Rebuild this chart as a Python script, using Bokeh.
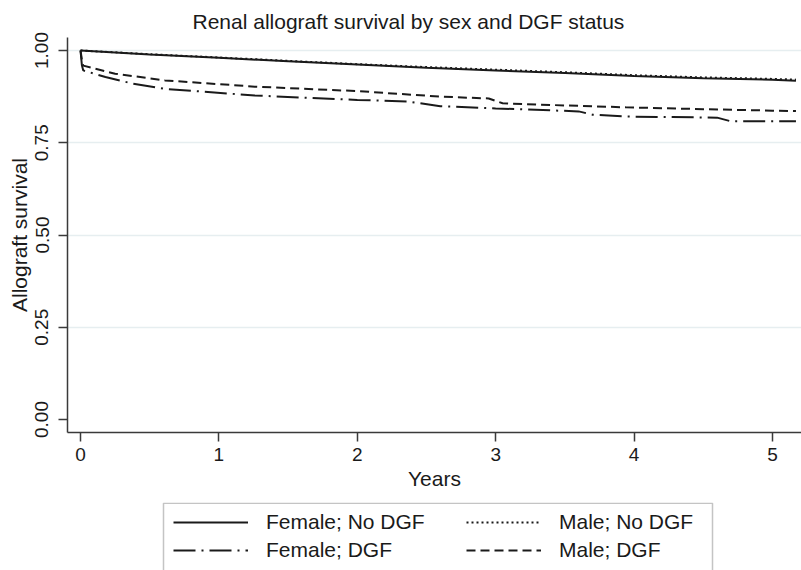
from bokeh.plotting import figure
from bokeh.layouts import column
from bokeh.models import Range1d, FixedTicker, NumeralTickFormatter, Legend, LegendItem, BoxAnnotation
from bokeh.embed import file_html
from bokeh.resources import INLINE

# ---- data ----
title_text = "Renal allograft survival by sex and DGF status"
x_label = "Years"
y_label = "Allograft survival"
x_ticks = [0, 1, 2, 3, 4, 5]
y_ticks = [0.0, 0.25, 0.5, 0.75, 1.0]

f_nodgf_t = [0, 0.5, 1.0, 1.5, 2.0, 2.5, 3.0, 3.5, 4.0, 4.5, 5.0, 5.17]
f_nodgf_s = [1.0, 0.989, 0.980, 0.971, 0.962, 0.953, 0.946, 0.939, 0.931, 0.925, 0.921, 0.918]

m_nodgf_t = [0, 0.5, 1.0, 1.5, 2.0, 2.5, 3.0, 3.5, 4.0, 4.5, 5.0, 5.17]
m_nodgf_s = [1.0, 0.990, 0.981, 0.972, 0.963, 0.955, 0.948, 0.941, 0.933, 0.927, 0.923, 0.921]

f_dgf_t = [0, 0.01, 0.02, 0.18, 0.38, 0.61, 1.26, 2.0, 2.36, 2.6, 3.0, 3.6, 3.7, 3.94, 4.6, 4.7, 5.17]
f_dgf_s = [1.0, 0.960, 0.946, 0.928, 0.910, 0.896, 0.878, 0.866, 0.862, 0.849, 0.843, 0.835, 0.826, 0.821, 0.818, 0.808, 0.808]

m_dgf_t = [0, 0.01, 0.02, 0.25, 0.61, 1.26, 2.0, 2.6, 2.95, 3.05, 3.5, 3.94, 4.5, 5.0, 5.17]
m_dgf_s = [1.0, 0.975, 0.959, 0.937, 0.919, 0.902, 0.890, 0.875, 0.870, 0.857, 0.851, 0.846, 0.841, 0.837, 0.836]

labels = ["Female; No DGF", "Male; No DGF", "Female; DGF", "Male; DGF"]

FONT = "Liberation Sans"
INK = "#1a1a1a"
AXIS = "#3a3a3a"
STYLES = [dict(line_dash="solid"), dict(line_dash="2 3"),
          dict(line_dash="22 6 2 6"), dict(line_dash="9 5")]

p = figure(width=801, height=502, output_backend="svg", toolbar_location=None,
           x_range=Range1d(-0.094, 5.21), y_range=Range1d(-0.0352, 1.0352),
           min_border_left=67, min_border_right=0, min_border_top=37, min_border_bottom=70)
p.outline_line_color = None
p.background_fill_color = "white"
p.border_fill_color = "white"

p.title.text = title_text
p.title.align = "left"
p.title.offset = 125
p.title.text_font = FONT
p.title.text_font_size = "21px"
p.title.text_font_style = "normal"
p.title.text_color = INK
p.title.standoff = 10

for ax in (p.xaxis[0], p.yaxis[0]):
    ax.axis_line_color = AXIS
    ax.axis_line_width = 1.5
    ax.major_tick_line_color = AXIS
    ax.major_tick_line_width = 1.5
    ax.major_tick_out = 9
    ax.major_tick_in = 0
    ax.minor_tick_line_color = None
    ax.major_label_text_font = FONT
    ax.major_label_text_font_size = "19px"
    ax.major_label_text_color = INK
    ax.axis_label_text_font = FONT
    ax.axis_label_text_font_size = "21px"
    ax.axis_label_text_font_style = "normal"
    ax.axis_label_text_color = INK

p.xaxis.ticker = FixedTicker(ticks=x_ticks)
p.xaxis.axis_label = x_label
p.xaxis.major_label_standoff = 6
p.xaxis.axis_label_standoff = 3

p.yaxis.ticker = FixedTicker(ticks=y_ticks)
p.yaxis.formatter = NumeralTickFormatter(format="0.00")
p.yaxis.axis_label = y_label
p.yaxis.major_label_orientation = "vertical"
p.yaxis.major_label_standoff = 10
p.yaxis.axis_label_standoff = 2

p.xgrid.visible = False
p.ygrid.ticker = FixedTicker(ticks=y_ticks[1:])
p.ygrid.grid_line_color = "#e6eef0"
p.ygrid.grid_line_width = 1.5

series = [(f_nodgf_t, f_nodgf_s), (m_nodgf_t, m_nodgf_s), (f_dgf_t, f_dgf_s), (m_dgf_t, m_dgf_s)]
for (t, s), st in zip(series, STYLES):
    p.line(t, s, line_color=INK, line_width=2, **st)

# ---- legend strip under the plot ----
# strip coordinates are pixels: x = page x (frame aligned with the plot, 67..801), y = px from strip top
q = figure(width=801, height=68, output_backend="svg", toolbar_location=None,
           x_range=Range1d(67, 801), y_range=Range1d(68, 0),
           x_axis_type=None, y_axis_type=None,
           min_border_left=0, min_border_right=0, min_border_top=0, min_border_bottom=0)
q.outline_line_color = None
q.grid.visible = False
q.background_fill_color = "white"
q.border_fill_color = "white"

# key lines: same series, they fall outside the strip's view, only the legend keys show
keys = {}
for lab, (t, s), st in zip(labels, series, STYLES):
    r = q.line(t, s, line_color=INK, line_width=2, **st)
    keys[lab] = LegendItem(label=lab, renderers=[r])

q.add_layout(BoxAnnotation(left=163, right=712, top=0.75, bottom=90,
                           fill_color=None, line_color=AXIS, line_width=1.5))

leg_style = dict(glyph_width=75, glyph_height=24, label_height=24,
                 label_standoff=18, spacing=4, padding=0, margin=0,
                 label_text_font=FONT, label_text_font_size="21px", label_text_color=INK,
                 border_line_color=None, background_fill_alpha=0)
left_leg = Legend(items=[keys[labels[0]], keys[labels[2]]], location=(106, 8), **leg_style)
right_leg = Legend(items=[keys[labels[1]], keys[labels[3]]], location=(399, 8), **leg_style)
q.add_layout(left_leg, "center")
q.add_layout(right_leg, "center")

layout = column(p, q, spacing=0)
open("out.html", "w").write(file_html(layout, INLINE))
